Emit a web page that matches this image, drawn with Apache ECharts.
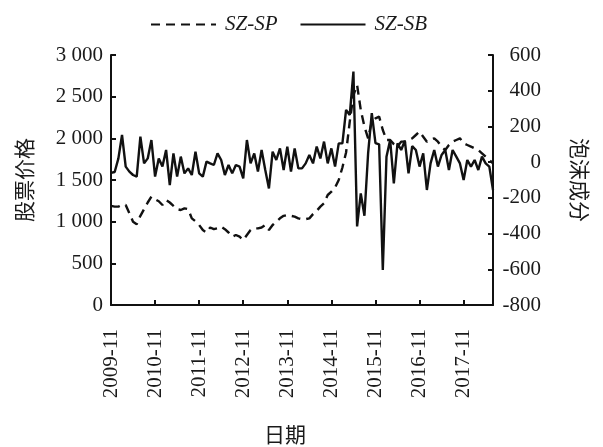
<!DOCTYPE html>
<html>
<head>
<meta charset="utf-8">
<script src="https://cdn.jsdelivr.net/npm/echarts@6/dist/echarts.min.js"></script>
<style>
html,body{margin:0;padding:0;background:#fff;}
#chart{width:603px;height:447px;}
</style>
</head>
<body>
<div id="chart"></div>
<script>
// Category months 2009-11 .. 2018-07
var startYear = 2009, startMonth = 11, monthCount = 105;
var months = [];
for (var k = 0; k < monthCount; k++) {
  var m = startMonth - 1 + k;
  var y = startYear + Math.floor(m / 12);
  var mm = (m % 12) + 1;
  months.push(y + '-' + (mm < 10 ? '0' + mm : mm));
}

// SZ-SP: stock price (left axis)
var szSP = [
  1190,1180,1180,1200,1200,1100,1000,970,1070,1150,
  1230,1300,1270,1245,1200,1260,1230,1190,1150,1140,
  1160,1150,1040,1005,960,900,870,930,910,920,
  940,910,870,820,840,820,780,840,900,920,
  920,930,960,900,960,1000,1040,1070,1080,1070,
  1060,1040,1030,1030,1040,1090,1130,1180,1220,1320,
  1360,1410,1500,1650,1830,2200,2520,2640,2340,2140,
  2000,2200,2240,2260,2100,1980,1980,1930,1900,1960,
  1960,1980,2000,2040,2080,2020,1960,1980,2000,1960,
  1900,1860,1920,1960,1980,2000,1940,1920,1900,1880,
  1860,1820,1780,1740,1700
];

// SZ-SB: bubble component (right axis)
var szSB = [
  -60,-55,20,152,-25,-53,-72,-81,143,-7,
  21,124,-81,21,-25,68,-128,49,-81,31,
  -63,-35,-72,59,-63,-81,3,-7,-16,49,
  12,-72,-16,-63,-16,-25,-91,124,-7,49,
  -53,68,-44,-147,59,12,77,-44,87,-53,
  77,-35,-35,-7,40,-7,87,21,115,-7,
  77,-25,105,105,292,264,507,-360,-175,-300,
  50,275,107,100,-604,30,124,-119,105,68,
  120,-63,90,68,-25,49,-156,-7,68,-25,
  40,68,-44,68,31,-7,-100,12,-25,12,
  -44,31,-7,-25,-156
];

var leftTicks = {min: 0, max: 3000, interval: 500};
var rightTicks = {min: -800, max: 600, interval: 200};

var serif = '"Liberation Serif", "Times New Roman", serif';
var cjk = '"Noto Sans CJK SC", sans-serif';
var txt = '#1a1a1a';
var ink = '#111';

function thousands(v) {
  var s = String(Math.abs(v));
  if (s.length > 3) s = s.slice(0, s.length - 3) + ' ' + s.slice(s.length - 3);
  return (v < 0 ? '-' : '') + s;
}

var chart = echarts.init(document.getElementById('chart'));
chart.setOption({
  animation: false,
  backgroundColor: '#fff',
  legend: {
    left: 145, top: 9,
    itemWidth: 65, itemHeight: 18, itemGap: 22,
    itemStyle: {opacity: 0},
    textStyle: {fontFamily: serif, fontStyle: 'italic', fontSize: 21, color: txt, padding: [0,0,0,4]},
    data: ['SZ-SP', 'SZ-SB']
  },
  grid: {left: 111, right: 110, top: 55, bottom: 142, containLabel: false, outerBoundsMode: 'none'},
  xAxis: {
    type: 'category',
    data: months,
    boundaryGap: false,
    axisLine: {lineStyle: {color: ink, width: 2}},
    axisTick: {inside: true, length: 5, interval: 11, lineStyle: {color: ink, width: 2}},
    axisLabel: {
      interval: 11, rotate: 90, margin: 24,
      fontFamily: serif, fontSize: 21, color: txt
    },
    splitLine: {show: false},
    name: '日期', nameLocation: 'middle', nameGap: 119,
    nameTextStyle: {fontFamily: cjk, fontSize: 21, color: txt, padding: [0, 34, 0, 0]}
  },
  yAxis: [
    {
      type: 'value', position: 'left',
      min: leftTicks.min, max: leftTicks.max, interval: leftTicks.interval,
      axisLine: {show: true, lineStyle: {color: ink, width: 2}},
      axisTick: {show: true, inside: true, length: 5, lineStyle: {color: ink, width: 2}},
      axisLabel: {fontFamily: serif, fontSize: 21, color: txt, margin: 8, formatter: thousands},
      splitLine: {show: false},
      name: '股票价格', nameLocation: 'middle', nameRotate: 90, nameGap: 76,
      nameTextStyle: {fontFamily: cjk, fontSize: 21, color: txt}
    },
    {
      type: 'value', position: 'right',
      min: rightTicks.min, max: rightTicks.max, interval: rightTicks.interval,
      axisLine: {show: true, lineStyle: {color: ink, width: 2}},
      axisTick: {show: true, inside: true, length: 5, lineStyle: {color: ink, width: 2}},
      axisLabel: {fontFamily: serif, fontSize: 21, color: txt, margin: 48, align: 'right'},
      splitLine: {show: false},
      name: '泡沫成分', nameLocation: 'middle', nameRotate: -90, nameGap: 76,
      nameTextStyle: {fontFamily: cjk, fontSize: 21, color: txt}
    }
  ],
  series: [
    {
      name: 'SZ-SP', type: 'line', yAxisIndex: 0, data: szSP,
      symbol: 'none', smooth: false,
      lineStyle: {color: ink, width: 2.4, type: [9, 6]},
      itemStyle: {color: ink}
    },
    {
      name: 'SZ-SB', type: 'line', yAxisIndex: 1, data: szSB,
      symbol: 'none', smooth: false,
      lineStyle: {color: ink, width: 2.4},
      itemStyle: {color: ink}
    }
  ]
});
</script>
</body>
</html>
